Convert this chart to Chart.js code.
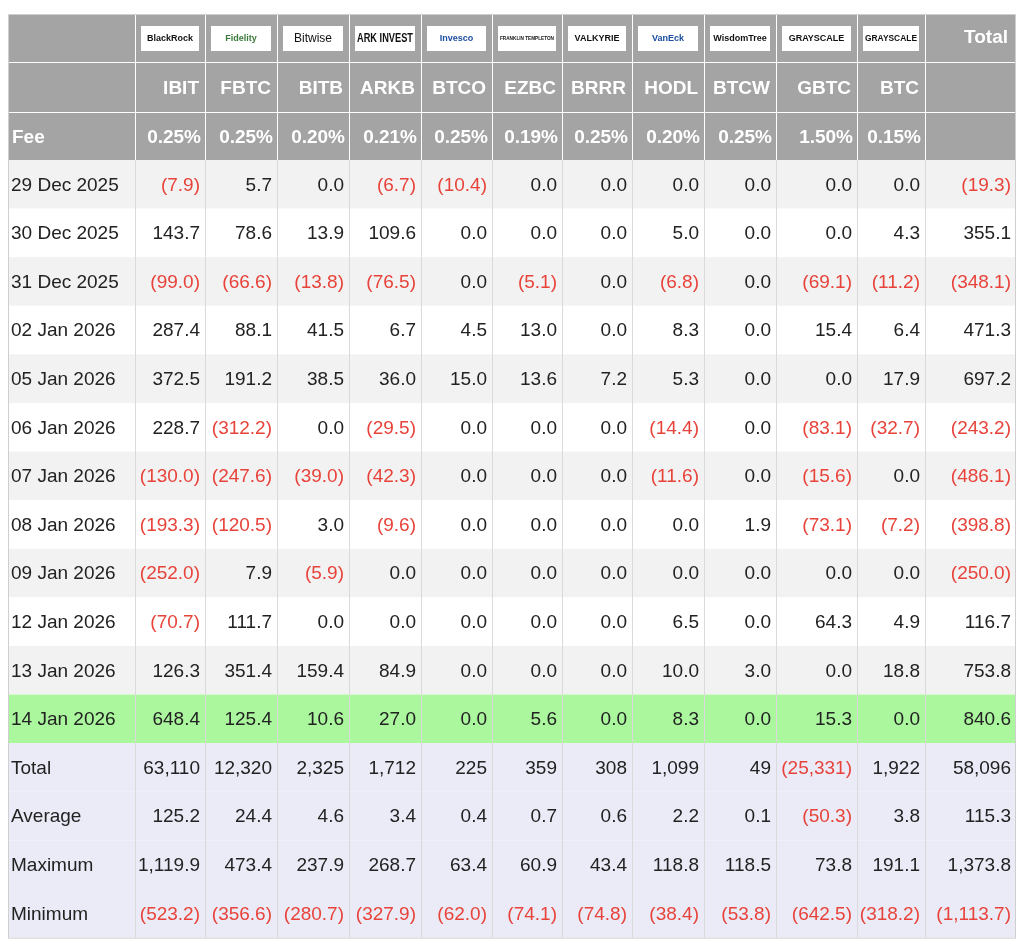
<!DOCTYPE html>
<html><head><meta charset="utf-8">
<script src="https://cdn.jsdelivr.net/npm/chart.js@4"></script>
<style>html,body{margin:0;padding:0;background:#fff}canvas{display:block}</style>
</head><body>
<canvas id="tbl" width="1024" height="947"></canvas>
<script>
// --- Data ---
const issuers = ["BlackRock", "Fidelity", "Bitwise", "ARK INVEST", "Invesco", "FRANKLIN TEMPLETON", "VALKYRIE", "VanEck", "WisdomTree", "GRAYSCALE", "GRAYSCALE"];
const tickers = ["IBIT", "FBTC", "BITB", "ARKB", "BTCO", "EZBC", "BRRR", "HODL", "BTCW", "GBTC", "BTC"];
const fees = ["0.25%", "0.25%", "0.20%", "0.21%", "0.25%", "0.19%", "0.25%", "0.20%", "0.25%", "1.50%", "0.15%"];
const dates = ["29 Dec 2025", "30 Dec 2025", "31 Dec 2025", "02 Jan 2026", "05 Jan 2026", "06 Jan 2026",
    "07 Jan 2026", "08 Jan 2026", "09 Jan 2026", "12 Jan 2026", "13 Jan 2026", "14 Jan 2026"];
const flows = [
    [-7.9, 5.7, 0, -6.7, -10.4, 0, 0, 0, 0, 0, 0, -19.3],
    [143.7, 78.6, 13.9, 109.6, 0, 0, 0, 5.0, 0, 0, 4.3, 355.1],
    [-99.0, -66.6, -13.8, -76.5, 0, -5.1, 0, -6.8, 0, -69.1, -11.2, -348.1],
    [287.4, 88.1, 41.5, 6.7, 4.5, 13.0, 0, 8.3, 0, 15.4, 6.4, 471.3],
    [372.5, 191.2, 38.5, 36.0, 15.0, 13.6, 7.2, 5.3, 0, 0, 17.9, 697.2],
    [228.7, -312.2, 0, -29.5, 0, 0, 0, -14.4, 0, -83.1, -32.7, -243.2],
    [-130.0, -247.6, -39.0, -42.3, 0, 0, 0, -11.6, 0, -15.6, 0, -486.1],
    [-193.3, -120.5, 3.0, -9.6, 0, 0, 0, 0, 1.9, -73.1, -7.2, -398.8],
    [-252.0, 7.9, -5.9, 0, 0, 0, 0, 0, 0, 0, 0, -250.0],
    [-70.7, 111.7, 0, 0, 0, 0, 0, 6.5, 0, 64.3, 4.9, 116.7],
    [126.3, 351.4, 159.4, 84.9, 0, 0, 0, 10.0, 3.0, 0, 18.8, 753.8],
    [648.4, 125.4, 10.6, 27.0, 0, 5.6, 0, 8.3, 0, 15.3, 0, 840.6]
];
const statLabels = ["Total", "Average", "Maximum", "Minimum"];
const totals = [63110, 12320, 2325, 1712, 225, 359, 308, 1099, 49, -25331, 1922, 58096];
const averages = [125.2, 24.4, 4.6, 3.4, 0.4, 0.7, 0.6, 2.2, 0.1, -50.3, 3.8, 115.3];
const maximums = [1119.9, 473.4, 237.9, 268.7, 63.4, 60.9, 43.4, 118.8, 118.5, 73.8, 191.1, 1373.8];
const minimums = [-523.2, -356.6, -280.7, -327.9, -62.0, -74.1, -74.8, -38.4, -53.8, -642.5, -318.2, -1113.7];

// --- Layout (scale units == pixels) ---
const colEdges = [8, 135, 205, 277, 349, 421, 492, 562, 632, 704, 776, 857, 925, 1016];
const headEdges = [14, 62, 112, 160];
const rowH = 48.6;
const FONT = "'Liberation Sans', Helvetica, Arial, sans-serif";
const RED = '#e8433a', TXT = '#222';

function fmt(v, dec) {
    const s = Math.abs(v).toLocaleString('en-US', {minimumFractionDigits: dec, maximumFractionDigits: dec});
    return v < 0 ? '(' + s + ')' : s;
}

const tablePlugin = {
    id: 'table',
    afterDraw(chart) {
        const ctx = chart.ctx, X = v => chart.scales.x.getPixelForValue(v), Y = v => chart.scales.y.getPixelForValue(v);
        const L = X(colEdges[0]), R = X(colEdges[colEdges.length - 1]);
        ctx.save();
        // header
        ctx.fillStyle = '#a4a4a4';
        ctx.fillRect(L, Y(headEdges[0]), R - L, Y(headEdges[3]) - Y(headEdges[0]));
        // body rows
        const bodyRows = [];
        dates.forEach((d, i) => bodyRows.push({label: d, vals: flows[i], dec: 1,
            bg: i === dates.length - 1 ? '#abf79e' : (i % 2 === 0 ? '#f2f2f2' : '#ffffff')}));
        [totals, averages, maximums, minimums].forEach((a, i) =>
            bodyRows.push({label: statLabels[i], vals: a, dec: i === 0 ? 0 : 1, bg: '#eaebf6'}));
        bodyRows.forEach((r, i) => {
            const top = Y(headEdges[3] + i * rowH), bot = Y(headEdges[3] + (i + 1) * rowH);
            ctx.fillStyle = r.bg;
            ctx.fillRect(L, top, R - L, bot - top);
            const cy = (top + bot) / 2 + 1;
            ctx.font = '19px ' + FONT;
            ctx.textBaseline = 'middle';
            ctx.textAlign = 'left';
            ctx.fillStyle = TXT;
            ctx.fillText(r.label, L + 3, cy);
            ctx.textAlign = 'right';
            r.vals.forEach((v, j) => {
                ctx.fillStyle = v < 0 ? RED : TXT;
                ctx.fillText(fmt(v, r.dec), X(colEdges[j + 2]) - 5, cy);
            });
        });
        const bodyBot = Y(headEdges[3] + bodyRows.length * rowH);
        // vertical grid
        ctx.lineWidth = 1;
        for (let j = 1; j < colEdges.length - 1; j++) {
            const x = Math.round(X(colEdges[j])) + 0.5;
            ctx.strokeStyle = '#ffffff';
            ctx.beginPath(); ctx.moveTo(x, Y(headEdges[0])); ctx.lineTo(x, Y(headEdges[3])); ctx.stroke();
            ctx.strokeStyle = '#dadada';
            ctx.beginPath(); ctx.moveTo(x, Y(headEdges[3])); ctx.lineTo(x, bodyBot); ctx.stroke();
        }
        ctx.strokeStyle = '#ffffff';
        [headEdges[1], headEdges[2]].forEach(h => {
            const y = Math.round(Y(h)) + 0.5;
            ctx.beginPath(); ctx.moveTo(L, y); ctx.lineTo(R, y); ctx.stroke();
        });
        // logos
        issuers.forEach((n, j) => {
            const x0 = X(colEdges[j + 1]) + 6, x1 = X(colEdges[j + 2]) - 6;
            const y0 = Y(headEdges[0]) + 12, y1 = Y(headEdges[1]) - 11;
            ctx.fillStyle = '#fff';
            ctx.fillRect(x0, y0, x1 - x0, y1 - y0);
            ctx.fillStyle = n === 'Fidelity' ? '#3a7a3a' : (n === 'Invesco' || n === 'VanEck' ? '#1d4fa0' : '#111');
            const sz = n.length > 12 ? 6 : (n === 'Bitwise' || n === 'ARK INVEST' ? 12 : 9);
            ctx.font = (n === 'Bitwise' ? '' : 'bold ') + sz + 'px ' + FONT;
            ctx.textAlign = 'center'; ctx.textBaseline = 'middle';
            ctx.fillText(n, (x0 + x1) / 2, (y0 + y1) / 2, x1 - x0 - 4);
        });
        // header text
        ctx.fillStyle = '#fff';
        ctx.font = 'bold 19px ' + FONT;
        ctx.textAlign = 'right'; ctx.textBaseline = 'middle';
        ctx.fillText('Total', R - 8, (Y(headEdges[0]) + Y(headEdges[1])) / 2);
        tickers.forEach((t, j) => ctx.fillText(t, X(colEdges[j + 2]) - 6, (Y(headEdges[1]) + Y(headEdges[2])) / 2 + 2));
        fees.forEach((f, j) => ctx.fillText(f, X(colEdges[j + 2]) - 4, (Y(headEdges[2]) + Y(headEdges[3])) / 2 + 2));
        ctx.textAlign = 'left';
        ctx.fillText('Fee', L + 4, (Y(headEdges[2]) + Y(headEdges[3])) / 2 + 2);
        // outer border
        ctx.strokeStyle = '#cfcfcf';
        ctx.strokeRect(L + 0.5, Y(headEdges[0]) + 0.5, R - L - 1, bodyBot - Y(headEdges[0]));
        ctx.restore();
    }
};

new Chart(document.getElementById('tbl').getContext('2d'), {
    type: 'bar',
    data: {labels: [], datasets: [{data: []}]},
    options: {
        responsive: false,
        animation: false,
        layout: {padding: 0},
        plugins: {legend: {display: false}, tooltip: {enabled: false}},
        scales: {
            x: {type: 'linear', min: 0, max: 1024, display: false, offset: false, grid: {offset: false}},
            y: {type: 'linear', min: 0, max: 947, reverse: true, display: false}
        }
    },
    plugins: [tablePlugin]
});
</script>
</body></html>
